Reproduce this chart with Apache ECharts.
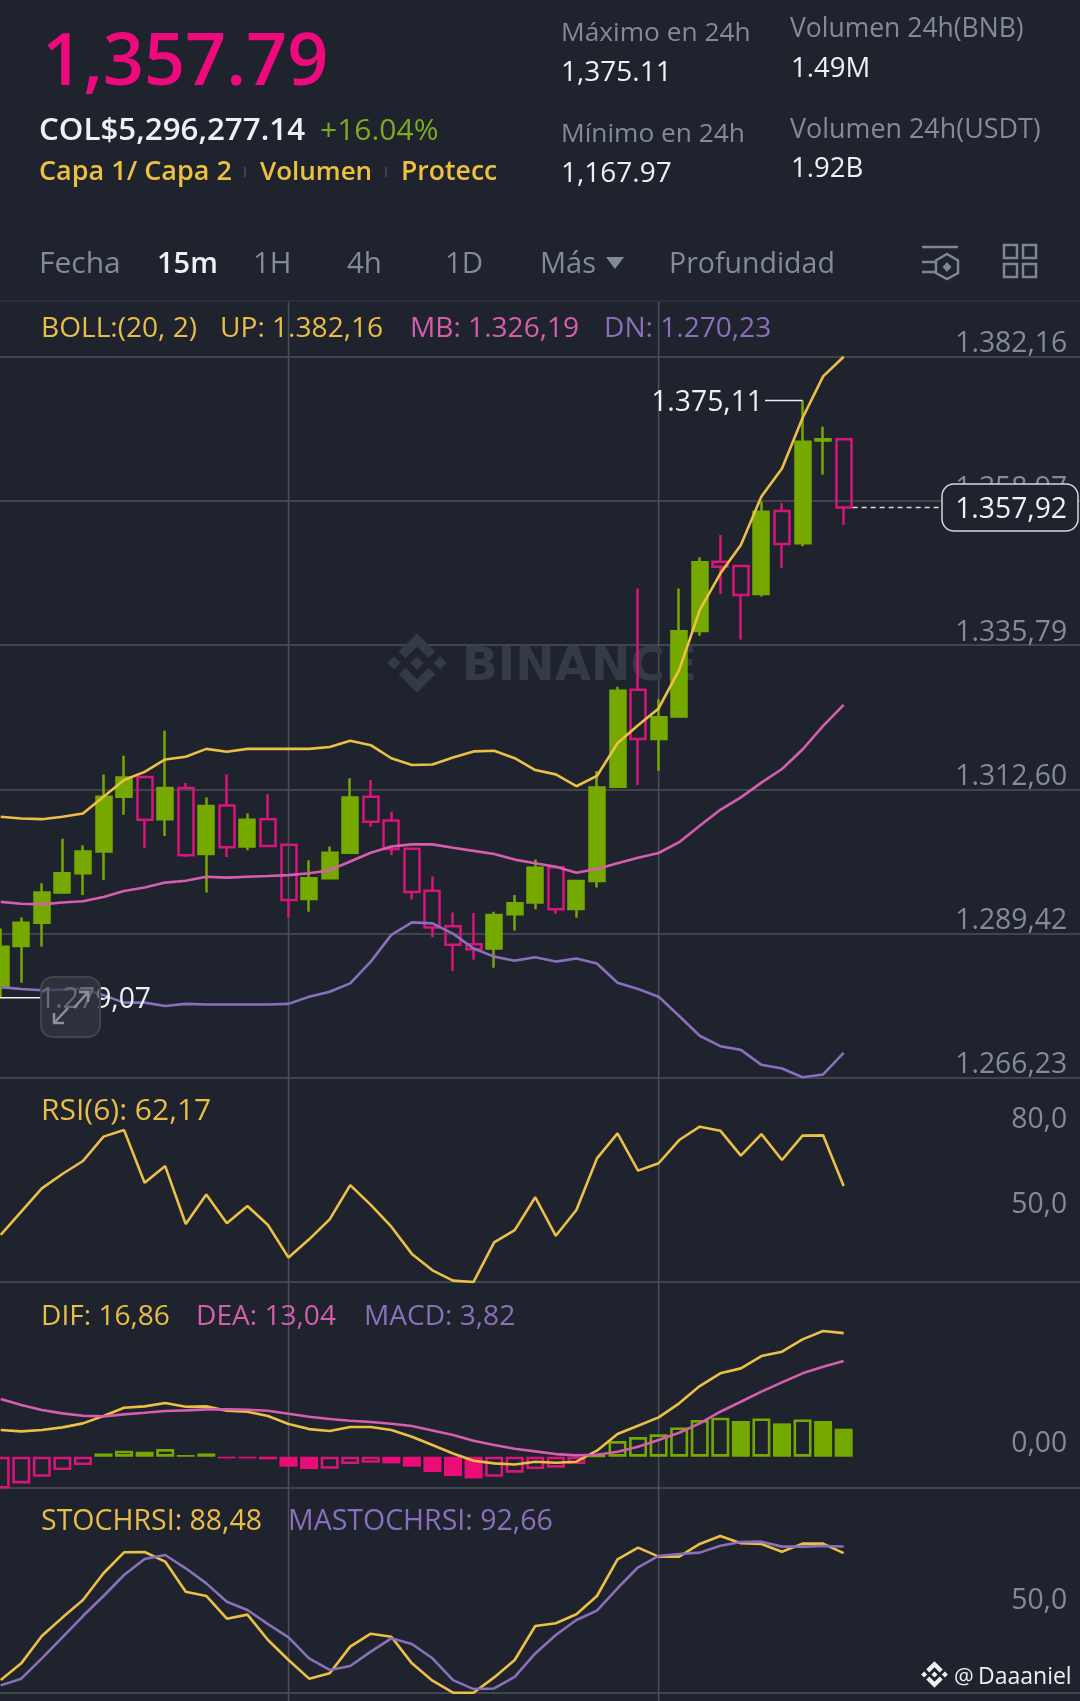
<!DOCTYPE html>
<html><head><meta charset="utf-8"><title>BNB</title>
<style>html,body{margin:0;padding:0;background:#1e232d}#c{width:1080px;height:1701px}</style>
<script src="https://cdn.jsdelivr.net/npm/echarts@6/dist/echarts.min.js"></script>
</head><body><div id="c"></div>
<script>
// ---------- data ----------
const opens  = [1280.8,1287.4,1291.16,1296.0,1299.1,1302.6,1311.4,1314.6,1307.8,1312.8,1302.2,1310.0,1303.4,1307.8,1303.7,1294.96,1298.3,1302.4,1311.4,1307.6,1303.05,1296.3,1290.6,1287.7,1287.0,1292.5,1294.4,1300.06,1293.35,1297.85,1313.0,1328.6,1320.7,1324.3,1338.06,1349.2,1348.5,1344.0,1357.35,1352.15,1368.7,1368.9];
const closes = [1287.3,1291.16,1296.0,1299.1,1302.6,1311.4,1314.5,1307.7,1312.8,1302.0,1309.9,1303.3,1307.7,1303.5,1294.8,1298.3,1302.4,1311.3,1307.4,1303.0,1296.1,1290.4,1287.6,1286.9,1292.4,1294.3,1300.0,1293.3,1297.85,1312.9,1328.46,1320.7,1324.2,1338.0,1349.1,1348.4,1343.85,1357.25,1352.05,1368.5,1368.9,1357.92];
const lows   = [1279.07,1281.5,1287.3,1296.0,1295.6,1298.0,1308.5,1303.2,1305.1,1301.7,1296.0,1301.7,1302.8,1303.5,1292.0,1292.9,1298.2,1302.4,1306.6,1302.0,1294.9,1288.8,1283.4,1285.2,1283.9,1289.9,1293.3,1292.55,1291.96,1296.8,1313.0,1313.3,1315.6,1324.3,1337.3,1344.0,1336.7,1343.6,1348.2,1351.7,1363.2,1355.1];
const highs  = [1290.24,1292.0,1297.5,1304.66,1303.6,1315.0,1318.0,1314.6,1322.0,1313.6,1311.3,1315.0,1308.7,1311.8,1303.7,1301.2,1303.4,1314.4,1314.1,1309.0,1303.05,1298.6,1292.8,1292.7,1292.9,1295.6,1301.3,1300.3,1298.0,1315.55,1329.1,1344.9,1327.1,1344.9,1349.9,1353.5,1348.5,1358.85,1358.6,1375.11,1370.9,1368.9];
const bollUp = [1308.2,1307.9,1307.8,1308.2,1308.7,1311.4,1314.1,1315.4,1317.4,1317.85,1319.1,1318.65,1319.1,1319.1,1319.1,1319.1,1319.4,1320.4,1319.7,1317.6,1316.5,1316.6,1317.7,1318.7,1318.8,1317.6,1315.7,1315.0,1313.1,1314.75,1320.0,1322.9,1325.6,1331.8,1341.4,1347.3,1351.9,1359.7,1364.2,1372.3,1379.0,1382.16];
const bollMb = [1294.5,1294.2,1294.1,1294.4,1294.6,1295.3,1296.25,1296.8,1297.6,1297.9,1298.55,1298.4,1298.55,1298.66,1298.8,1299.1,1299.6,1301.0,1302.4,1303.4,1303.75,1303.75,1303.2,1302.7,1302.2,1301.3,1300.7,1300.16,1299.2,1299.8,1300.7,1301.6,1302.36,1304.1,1306.75,1309.3,1311.3,1313.67,1315.87,1319.0,1322.8,1326.19];
const bollDn = [1280.8,1280.5,1280.3,1280.4,1280.5,1279.5,1278.3,1278.3,1277.75,1278.1,1278.0,1278.0,1278.0,1278.0,1278.1,1279.26,1280.06,1281.4,1284.9,1289.2,1291.2,1291.05,1289.4,1287.0,1285.7,1285.05,1285.6,1284.9,1285.4,1284.6,1281.5,1280.5,1279.26,1276.15,1272.98,1271.3,1270.7,1268.3,1267.7,1266.3,1266.75,1270.23];
const rsi6   = [44.9,53.11,61.35,66.4,71.0,79.6,81.9,63.35,69.2,48.75,59.2,49.0,55.1,48.4,36.9,43.35,50.4,62.5,55.5,47.8,38.2,32.4,28.75,28.3,42.3,46.6,58.2,44.6,53.7,71.9,80.75,67.6,70.2,78.4,83.1,81.7,72.9,80.5,71.35,79.95,80.05,62.17];
const dif    = [3.64,3.46,3.64,4.0,4.55,5.55,6.69,6.87,7.32,6.82,6.87,6.28,6.14,5.55,4.46,3.77,3.5,4.05,4.05,3.64,2.73,1.59,0.45,-0.55,-0.91,-1.05,-0.68,-0.82,-0.68,0.82,3.09,4.23,5.37,7.28,9.64,11.37,12.05,13.73,14.33,16.0,17.15,16.86];
const dea    = [7.87,7.05,6.37,5.91,5.59,5.5,5.78,6.0,6.23,6.32,6.46,6.46,6.41,6.28,5.87,5.46,5.14,4.91,4.73,4.5,4.18,3.59,2.96,2.18,1.59,1.09,0.73,0.36,0.18,0.27,0.68,1.36,2.27,3.27,4.55,6.14,7.5,8.87,10.14,11.37,12.28,13.04];
const macd   = [-4.6,-3.64,-2.73,-1.82,-1.14,0.45,0.82,0.68,1.05,0.23,0.45,-0.23,-0.23,-0.36,-1.36,-1.68,-1.64,-1.0,-0.82,-0.91,-1.36,-2.09,-2.64,-2.96,-2.73,-2.18,-1.68,-1.5,-1.0,0.18,2.14,2.68,3.05,4.0,5.0,5.32,4.87,5.23,4.55,5.09,4.87,3.82];
const macdHollow = [1,1,1,1,1,0,1,0,1,0,0,0,0,0,0,0,1,1,1,0,0,0,0,0,1,1,1,1,1,1,1,1,1,1,1,1,0,1,0,1,0,0];
const stoch  = [8.0,18.6,35.9,47.6,58.8,75.7,89.0,89.2,83.1,64.0,61.3,46.9,49.5,33.4,20.7,8.9,12.3,29.2,37.4,35.5,18.6,7.6,0,0,9.7,20.7,42.3,44.0,49.7,61.3,84.55,91.95,86.25,86.25,94.3,99.35,94.7,94.3,89.4,94.5,94.5,88.48];
const stochMa= [4.65,8.9,21.8,35.1,48.6,61.3,74.6,84.8,87.3,78.85,69.3,57.7,52.4,43.5,35.1,21.8,14.4,16.9,26,34.45,30.9,21.8,8.0,2.3,2.7,10.1,24.9,36.6,46.1,52,66.2,79.5,86.7,87.9,88.8,93.2,95.5,95.75,92.6,92.6,93.0,92.66];
const priceTicks = [1266.23,1289.42,1312.60,1335.79,1358.97,1382.16];
const rsiLabels = [80,50], macdLabels = [0], stochLabels = [50];
const slotCount = 53; // 42 candles plus the empty room to the right
const categories = Array.from({length:slotCount},(_,i)=>i);
const maxIdx = 39, minIdx = 0, lastIdx = 41, gridIdx = [14,32];
const lastPrice = 1357.92;

// ---------- style ----------
const BG='#1e232d', GREEN='#76a900', RED='#d8157a', RED2='#ea0c77', YEL='#ecc046', PINK='#d55fae', PUR='#8a70bb', GRID='#4b505a', GREY='#848b97', WHITE='#eef0f2', FONT='Open Sans';
const esNum=(v,d)=>{const [a,b]=v.toFixed(d).split('.');return a.replace(/\B(?=(\d{3})+$)/g,'.')+(b?','+b:'');};

const L=-9.58, W=1089.68;
const panes=[{top:301,height:776.7},{top:1077.7,height:204.3},{top:1282,height:205.3},{top:1487.3,height:205.4}];
const grids=panes.map(p=>({left:L,width:W,top:p.top,height:p.height,outerBoundsMode:'none',containLabel:false}));
const xAxes=panes.map((p,i)=>({type:'category',gridIndex:i,data:categories,show:false,boundaryGap:true}));
function yAxis(i,min,max,ticks,labels,dec,pad){
  return {type:'value',gridIndex:i,position:'right',min,max,scale:true,
    axisLine:{show:false},
    axisTick:{show:false,customValues:ticks},
    splitLine:{show:true,lineStyle:{color:GRID,width:1.5}},
    axisLabel:{inside:true,customValues:labels,margin:13,verticalAlign:'bottom',color:GREY,fontFamily:FONT,fontSize:28.3,lineHeight:25,padding:[0,0,pad,0],formatter:v=>esNum(v,dec)}};
}
const yAxes=[
  yAxis(0,1266.23,1391.12,priceTicks,priceTicks,2,0),
  yAxis(1,28.28,100.4,[28.28],rsiLabels,1,3),
  yAxis(2,-4.17,23.83,[-4.17],macdLabels,2,0),
  yAxis(3,0,130.2,[0],stochLabels,1,0)
];
const line=(name,data,color,g)=>({name,type:'line',data,xAxisIndex:g,yAxisIndex:g,symbol:'none',clip:false,silent:true,lineStyle:{color,width:2.6},itemStyle:{color},z:3});
const candles=opens.map((o,i)=>[o,closes[i],lows[i],highs[i]]);
const macdBars=macd.map((v,i)=>{
  const h=macdHollow[i];
  return {value:v,itemStyle:{color:h?'rgba(0,0,0,0)':(v>=0?GREEN:RED2),borderColor:v>=0?GREEN:RED,borderWidth:h?2.6:0}};
});
const series=[
  {name:'K',type:'candlestick',data:candles,xAxisIndex:0,yAxisIndex:0,barWidth:15.5,
   itemStyle:{color:GREEN,color0:'rgba(0,0,0,0)',borderColor:GREEN,borderColor0:RED,borderWidth:2.5},z:2},
  line('UP',bollUp,YEL,0),line('MB',bollMb,PINK,0),line('DN',bollDn,PUR,0),
  line('RSI',rsi6,YEL,1),
  {name:'MACD',type:'bar',data:macdBars,xAxisIndex:2,yAxisIndex:2,barWidth:18,z:2},
  line('DIF',dif,YEL,2),line('DEA',dea,PINK,2),
  line('STOCHRSI',stoch,YEL,3),line('MASTOCHRSI',stochMa,PUR,3)
];

const chart=echarts.init(document.getElementById('c'),null,{renderer:'canvas',width:1080,height:1701});
chart.setOption({animation:false,backgroundColor:BG,grid:grids,xAxis:xAxes,yAxis:yAxes,series});

// ---------- annotations and page furniture ----------
const px=(i,v)=>chart.convertToPixel({xAxisIndex:0,yAxisIndex:0},[i,v]);
const T=(text,x,base,size,fill,o={})=>({type:'text',x,y:base-0.267*size,z:o.z||5,style:{text,fill,fontFamily:o.font||FONT,fontSize:size,fontWeight:o.w||400,align:o.a||'left',verticalAlign:'middle'}});
const Ln=(x1,y1,x2,y2,stroke,w=1.5,o={})=>({type:'line',z:o.z===undefined?5:o.z,shape:{x1,y1,x2,y2},style:{stroke,lineWidth:w,lineDash:o.dash||null}});
const LOGO=[[[38.73,53.2],[63,28.93],[87.28,53.21],[101.4,39.09],[63,0.69],[24.61,39.08]],[[0.5,62.99],[14.62,48.87],[28.74,62.99],[14.62,77.11]],[[38.73,72.8],[63,97.07],[87.28,72.79],[101.41,86.9],[63,125.3],[24.6,86.91]],[[97.27,62.99],[111.39,48.87],[125.51,62.99],[111.39,77.11]],[[63,48.64],[77.33,62.98],[63,77.31],[48.67,62.97]]];
const Logo=(x,y,s,fill,z)=>LOGO.map(pts=>({type:'polygon',z,shape:{points:pts.map(p=>[x+p[0]*s/126,y+p[1]*s/126])},style:{fill}}));
const els=[];
// vertical hairlines through every pane
gridIdx.forEach(i=>{const x=px(i,1300)[0];els.push(Ln(x,302,x,1701,GRID,1.5,{z:1}));});
els.push(Ln(0,301,1080,301,'#2a2f39',2,{z:1}));
// watermark
els.push(...Logo(387,633,60,'#353b46',1),T('BINANCE',462,680,47,'#353b46',{w:700,z:1,font:'DejaVu Sans'}));
// header
const Y2='#eec03f';
els.push(
 T('1,357.79',42,84,72,'#ee0a7c',{w:600}),
 T('COL$5,296,277.14',39,139,31.3,WHITE,{w:600}),
 T('+16.04%',320,139,30,'#7cab1e',{w:500}),
 T('Capa 1/ Capa 2',39,180,27,Y2,{w:600}),
 T('Volumen',260,180,26,Y2,{w:600}),
 T('Protecc',401,180,26.6,Y2,{w:600}),
 Ln(245,167,245,177,'#3c424d',2),Ln(386,167,386,177,'#3c424d',2),
 T('Máximo en 24h',561,41,26.3,GREY),T('1,375.11',561,81,28,WHITE),
 T('Mínimo en 24h',561,142,26.3,GREY),T('1,167.97',561,182,28,WHITE),
 T('Volumen 24h(BNB)',790,37,26.5,GREY),T('1.49M',791,77,27.5,WHITE),
 T('Volumen 24h(USDT)',790,138,26.9,GREY),T('1.92B',791,177,27.5,WHITE),
 T('Fecha',39,272,30,GREY),T('15m',157,272,29,WHITE,{w:600}),T('1H',253,272,29.5,GREY),T('4h',347,272,29.5,GREY),T('1D',445,272,29.5,GREY),T('Más',540,272,29,GREY),
 {type:'polygon',z:5,shape:{points:[[606,257],[624,257],[615,269]]},style:{fill:GREY}},
 T('Profundidad',669,272,28.5,GREY)
);
// tool icons
const ic='#7f8692';
els.push(Ln(922,247,958,247,ic,2.5),Ln(922,262,935,262,ic,2.5),Ln(922,272,935,272,ic,2.5),
 {type:'polygon',z:5,shape:{points:[[947,254],[958,260.5],[958,273],[947,279],[936,273],[936,260.5]]},style:{fill:'none',stroke:ic,lineWidth:2.5}},
 {type:'polygon',z:5,shape:{points:[[947,262],[951.5,267],[947,272],[942.5,267]]},style:{fill:ic}});
[[1004,245],[1023,245],[1004,264],[1023,264]].forEach(p=>els.push({type:'rect',z:5,shape:{x:p[0],y:p[1],width:13,height:13},style:{fill:'none',stroke:ic,lineWidth:2.5}}));
// indicator legends
const lg=(parts,base,size=28.1)=>parts.forEach(p=>els.push(T(p[0],p[1],base,size,p[2])));
const LY='#e9bd48';
lg([['BOLL:(20, 2)',41,LY],['UP: 1.382,16',220,LY],['MB: 1.326,19',410,PINK],['DN: 1.270,23',604,PUR]],336);
els.push(T('RSI(6): 62,17',41,1119,30,LY));
lg([['DIF: 16,86',41,LY],['DEA: 13,04',196,PINK],['MACD: 3,82',364,PUR]],1324);
lg([['STOCHRSI: 88,48',41,LY],['MASTOCHRSI: 92,66',288,PUR]],1529,28.5);
// max marker
const pMax=px(maxIdx,highs[maxIdx]);
els.push(Ln(pMax[0],pMax[1],765,pMax[1],WHITE,1.5),T(esNum(highs[maxIdx],2),763,pMax[1]+10,28.3,WHITE,{a:'right'}));
// min marker
const pMin=px(minIdx,lows[minIdx]);
els.push(Ln(0,pMin[1],42,pMin[1],WHITE,1.5),T(esNum(lows[minIdx],2),151,pMin[1]+10,28.3,WHITE,{a:'right'}));
// expand button
els.push({type:'rect',z:6,shape:{x:41,y:977,width:59,height:60,r:12},style:{fill:'rgba(50,56,66,0.72)',stroke:'#40454f',lineWidth:2}});
[[[74,1008],[88,992]],[[79,992],[88,992],[88,1002]],[[68,1008],[54,1023]],[[54,1013],[54,1023],[64,1023]]].forEach(points=>
 els.push({type:'polyline',z:7,shape:{points},style:{fill:'none',stroke:'#8b919c',lineWidth:2.5}}));
// last price
const pLast=px(lastIdx,lastPrice);
els.push(Ln(pLast[0]+9,pLast[1],942,pLast[1],'#d6d8dc',1.5,{dash:[5,4]}),
 {type:'rect',z:6,shape:{x:942,y:pLast[1]-23.5,width:136,height:47,r:12},style:{fill:BG,stroke:'#d6d8dc',lineWidth:1.5}},
 T(esNum(lastPrice,2),1067,pLast[1]+10,28.3,WHITE,{a:'right',z:7}));
// signature
els.push(...Logo(921,1661,27,WHITE,5),T('@',954,1684,22,WHITE),T('Daaaniel',978,1684,23,WHITE));
chart.setOption({graphic:{elements:els}});
</script></body></html>
